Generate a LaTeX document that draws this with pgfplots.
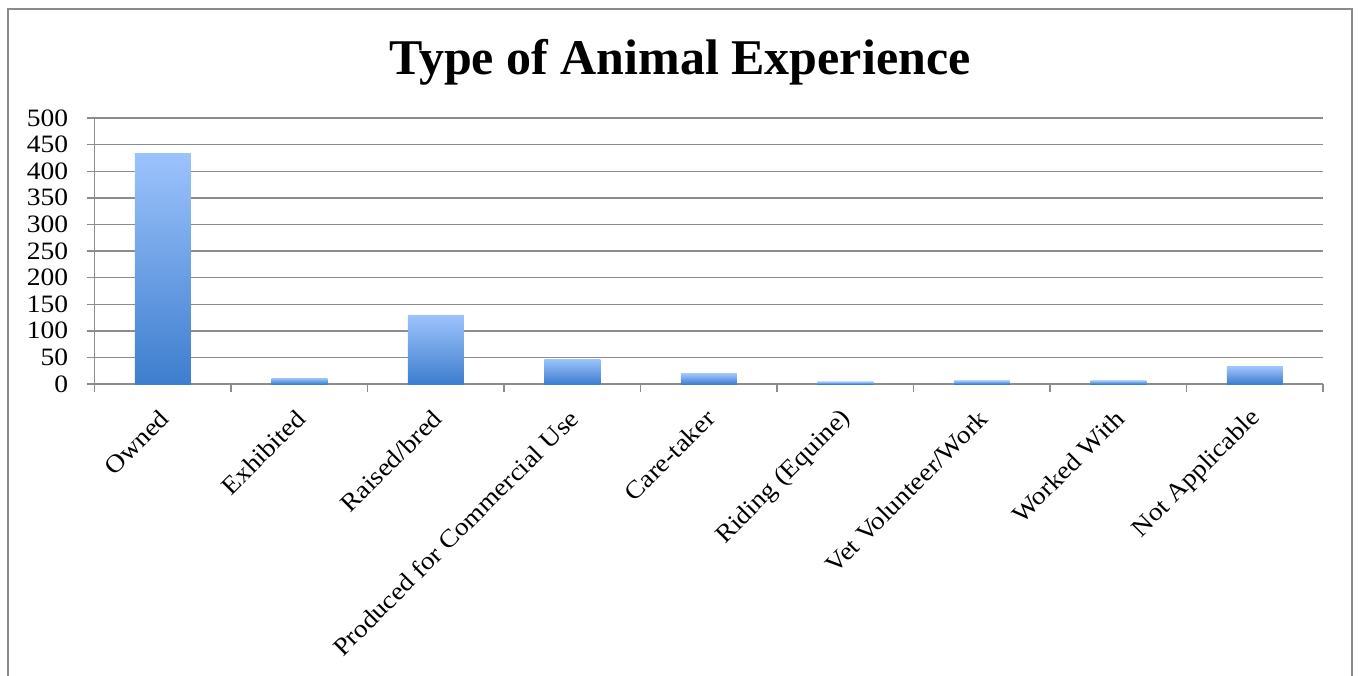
\documentclass[border=0pt]{standalone}
\usepackage{pgfplots}
\pgfplotsset{compat=1.18}
\usepackage{fontspec}
\setmainfont[FakeStretch=1.1]{Liberation Serif}
\newfontfamily\titlefont{Liberation Serif}
\definecolor{barTop}{HTML}{9DC3FC}
\definecolor{barBot}{HTML}{3D7ECE}
\definecolor{gridc}{HTML}{8C8C8C}
\definecolor{framec}{HTML}{8A8A8A}
\pgfplotsset{mybar/.style={ybar, bar width=28pt, bar shift=0pt, draw=none, top color=barTop, bottom color=barBot}}
\begin{document}
\begin{tikzpicture}[x=1pt,y=1pt]
\path[use as bounding box] (0,0) rectangle (679,337.5);
\draw[framec, line width=1pt] (4,-10) rectangle (676,333);
\node[font=\titlefont\fontsize{25}{30}\selectfont\bfseries] at (340,306.5) {Type of Animal Experience};
\begin{axis}[
  at={(47.25pt,145.5pt)}, anchor=south west,
  scale only axis, width=614.25pt, height=133pt,
  xmin=-0.5, xmax=8.5, ymin=0, ymax=500,
  ytick={0,50,...,500},
  xtick={-0.5,0.5,1.5,2.5,3.5,4.5,5.5,6.5,7.5,8.5},
  xticklabels={},
  extra x ticks={0,1,2,3,4,5,6,7,8},
  extra x tick labels={Owned,Exhibited,Raised/bred,Produced for Commercial Use,Care-taker,Riding (Equine),Vet Volunteer/Work,Worked With,Not Applicable},
  extra x tick style={major tick length=0pt, grid=none},
  axis x line*=bottom, axis y line*=left,
  axis line style={gridc, line width=0.7pt, -},
  tick align=outside, major tick length=4pt,
  tick style={gridc, line width=0.7pt},
  ymajorgrids, major grid style={gridc, line width=0.7pt},
  /pgf/number format/assume math mode=true,
  ticklabel style={font=\fontsize{12.5}{15}\selectfont, inner sep=0pt},
  yticklabel style={anchor=east, xshift=-9pt},
  xticklabel style={rotate=45, anchor=east, yshift=-11.4pt, xshift=-9.9pt},
  clip=false,
]
\addplot[mybar] coordinates {(0,434)};
\addplot[mybar] coordinates {(1,11)};
\addplot[mybar] coordinates {(2,129)};
\addplot[mybar] coordinates {(3,47)};
\addplot[mybar] coordinates {(4,19)};
\addplot[mybar] coordinates {(5,4)};
\addplot[mybar] coordinates {(6,6)};
\addplot[mybar] coordinates {(7,6)};
\addplot[mybar] coordinates {(8,32)};
\end{axis}
\end{tikzpicture}
\end{document}
